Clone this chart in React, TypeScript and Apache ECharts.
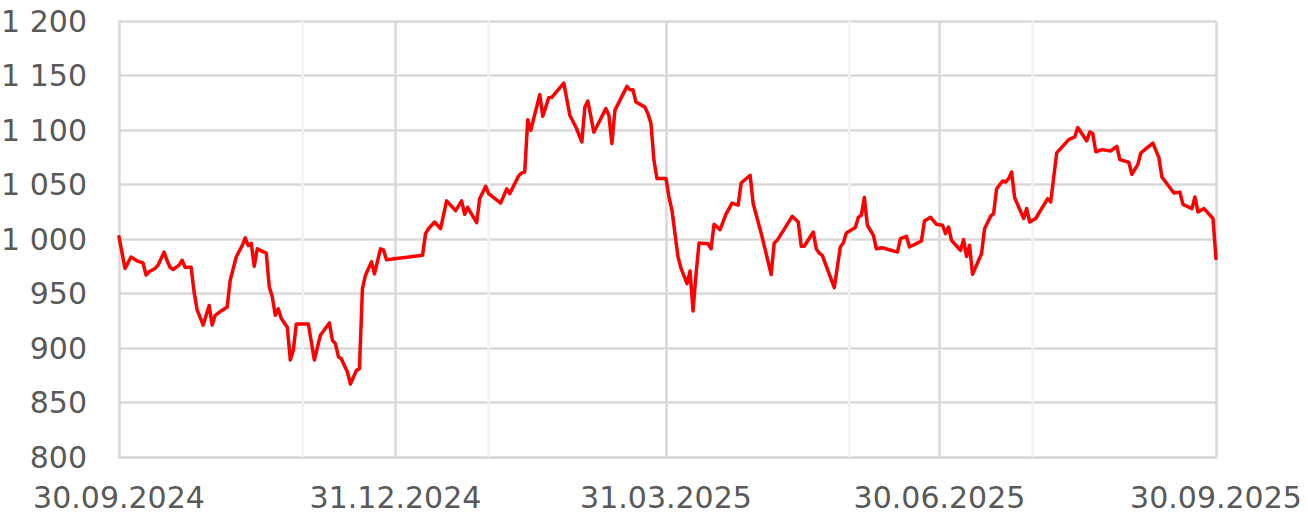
import React, { useEffect, useRef } from "react";
import * as echarts from "echarts";

// Days since 30.09.2024
const dayOffsets = [
  0, 2, 4, 6, 7, 8, 9, 10, 12, 13, 15, 16, 17, 18, 20, 21, 22, 24, 25, 26,
  28, 30, 31, 32, 34, 36, 37, 39, 41, 42, 43, 44, 45, 46, 47, 49, 50, 51, 52, 53,
  54, 56, 57, 58, 59, 63, 65, 67, 70, 71, 72, 73, 74, 76, 77, 79, 80, 81, 82, 84,
  85, 87, 88, 89, 101, 102, 103, 105, 107, 109, 112, 114, 115, 116, 119, 120, 122, 123, 127, 129,
  130, 133, 134, 135, 136, 137, 140, 141, 143, 144, 148, 150, 152, 154, 155, 156, 158, 162, 163, 164,
  165, 169, 170, 171, 172, 175, 176, 177, 178, 179, 182, 183, 184, 186, 187, 189, 190, 191, 192, 193,
  196, 197, 198, 200, 202, 204, 206, 207, 210, 211, 214, 217, 218, 219, 224, 226, 227, 228, 231, 232,
  233, 234, 238, 240, 241, 242, 245, 246, 247, 248, 249, 251, 252, 254, 259, 260, 262, 263, 267, 268,
  270, 272, 274, 275, 276, 277, 279, 280, 281, 282, 283, 284, 287, 288, 290, 291, 292, 294, 295, 296,
  297, 298, 301, 302, 303, 305, 309, 310, 312, 316, 318, 319, 322, 323, 324, 325, 327, 330, 332, 333,
  336, 337, 339, 340, 344, 346, 347, 351, 353, 354, 357, 358, 359, 361, 364, 365,
];

const indexValues = [
  1002, 973, 983.5, 980, 979, 978, 967, 970, 973, 976, 988, 980, 974, 972, 976, 980.5, 974, 974, 951, 935,
  921, 939, 921, 930, 934, 937.6, 962, 983.5, 994, 1001, 994, 996, 975, 991, 989.6, 987, 956, 947, 930, 936,
  927, 919, 889, 898, 922, 922, 889, 911.7, 923, 907, 904, 892, 890, 878, 867, 879.5, 881, 954.5, 966.7, 979,
  968, 991, 990, 981, 985, 1005, 1009.5, 1015.6, 1009.5, 1035, 1026, 1035, 1022.7, 1029, 1015, 1037, 1048.4, 1041.6, 1033, 1046,
  1041.6, 1058, 1060.6, 1061.5, 1109.5, 1099.7, 1132.5, 1112.6, 1129.7, 1130, 1143, 1113.5, 1102.8, 1089, 1121, 1126.6, 1098, 1119.6, 1113.5, 1087.5,
  1118, 1140, 1137, 1137, 1125.7, 1121, 1115, 1106, 1072, 1055.4, 1055.4, 1038.5, 1026, 983.5, 973, 959, 970.6, 934, 968, 996.3,
  995.6, 991, 1013.5, 1008.6, 1023, 1033, 1031, 1051.4, 1058.5, 1032.5, 1001.8, 967.3, 996.3, 998.8, 1020.8, 1015.6, 993.3, 993.3, 1006.4, 991,
  987, 985, 955.4, 992.7, 996.3, 1005.5, 1010.5, 1020, 1021.7, 1038, 1012.6, 1003.4, 991, 992, 988, 1000.4, 1002.5, 992.7, 998.2, 1016.5,
  1020, 1013.5, 1012.6, 1005, 1011, 998.8, 992.7, 989.6, 999.4, 984, 994.2, 967.6, 986.6, 1009.5, 1020.8, 1023.3, 1046, 1053.2, 1052.3, 1055.4,
  1061.5, 1038, 1018.8, 1028, 1015.6, 1018.8, 1037, 1034, 1079, 1091.2, 1093.6, 1102.2, 1090, 1098.2, 1096.7, 1080, 1082, 1080.8, 1085, 1072.8,
  1070.4, 1059.4, 1068.5, 1079, 1088, 1074.6, 1056.9, 1042.2, 1043, 1031.8, 1027.9, 1038.5, 1024.8, 1027.9, 1018.8, 982,
];

const xTickOffsets = [0, 92, 182, 273, 365];
const xTickLabels = ["30.09.2024", "31.12.2024", "31.03.2025", "30.06.2025", "30.09.2025"];
const majorGridOffsets = [92, 182, 273, 365];
const minorGridOffsets = [61, 123, 243, 304];

const TEXT_COLOR = "#595959";
const GRID_COLOR = "#d9d9d9";
const MINOR_GRID_COLOR = "#f2f2f2";
const FONT = "DejaVu Sans";

export default function App() {
  const ref = useRef<HTMLDivElement>(null);

  useEffect(() => {
    if (!ref.current) return;
    document.body.style.margin = "0";
    const chart = echarts.init(ref.current, undefined, { renderer: "svg" });
    const seriesData = dayOffsets.map((d, i) => [d, indexValues[i]]);
    const markData = [
      ...minorGridOffsets.map((d) => ({ xAxis: d, lineStyle: { color: MINOR_GRID_COLOR, width: 2.5, type: "solid" } })),
      ...majorGridOffsets.map((d) => ({ xAxis: d, lineStyle: { color: GRID_COLOR, width: 2.5, type: "solid" } })),
    ];
    chart.setOption({
      animation: false,
      grid: {
        left: 119,
        right: 92,
        top: 21,
        bottom: 60,
        containLabel: false,
        outerBoundsMode: "none",
      },
      xAxis: {
        type: "value",
        min: 0,
        max: 365,
        splitLine: { show: false },
        axisTick: { show: false },
        axisLine: { show: true, lineStyle: { color: GRID_COLOR, width: 2.5 } },
        axisLabel: {
          customValues: xTickOffsets,
          formatter: (v: number) => {
            const i = xTickOffsets.indexOf(Math.round(v));
            return i >= 0 ? xTickLabels[i] : "";
          },
          color: TEXT_COLOR,
          fontFamily: FONT,
          fontSize: 30,
          margin: 25,
          showMinLabel: true,
          showMaxLabel: true,
          hideOverlap: false,
        },
      },
      yAxis: {
        type: "value",
        min: 800,
        max: 1200,
        interval: 50,
        axisTick: { show: false },
        axisLine: { show: true, lineStyle: { color: GRID_COLOR, width: 2.5 } },
        splitLine: { show: true, lineStyle: { color: GRID_COLOR, width: 2.5 } },
        axisLabel: {
          color: TEXT_COLOR,
          fontFamily: FONT,
          fontSize: 30,
          margin: 32,
          formatter: (v: number) => {
            if (v >= 1000) {
              const th = Math.floor(v / 1000);
              const rest = String(v % 1000).padStart(3, "0");
              return th + " " + rest;
            }
            return String(v);
          },
        },
      },
      series: [
        {
          type: "line",
          z: 1,
          silent: true,
          data: seriesData,
          showSymbol: false,
          lineStyle: { opacity: 0 },
          markLine: {
            silent: true,
            z: 1,
            symbol: ["none", "none"],
            label: { show: false },
            animation: false,
            data: markData,
          },
        },
        {
          type: "line",
          z: 10,
          data: seriesData,
          showSymbol: false,
          smooth: false,
          lineStyle: { color: "#ff0000", width: 3.5, join: "round", cap: "round" },
          itemStyle: { color: "#ff0000" },
        },
      ],
    });
    return () => chart.dispose();
  }, []);

  return <div ref={ref} style={{ width: 1308, height: 517 }} />;
}
